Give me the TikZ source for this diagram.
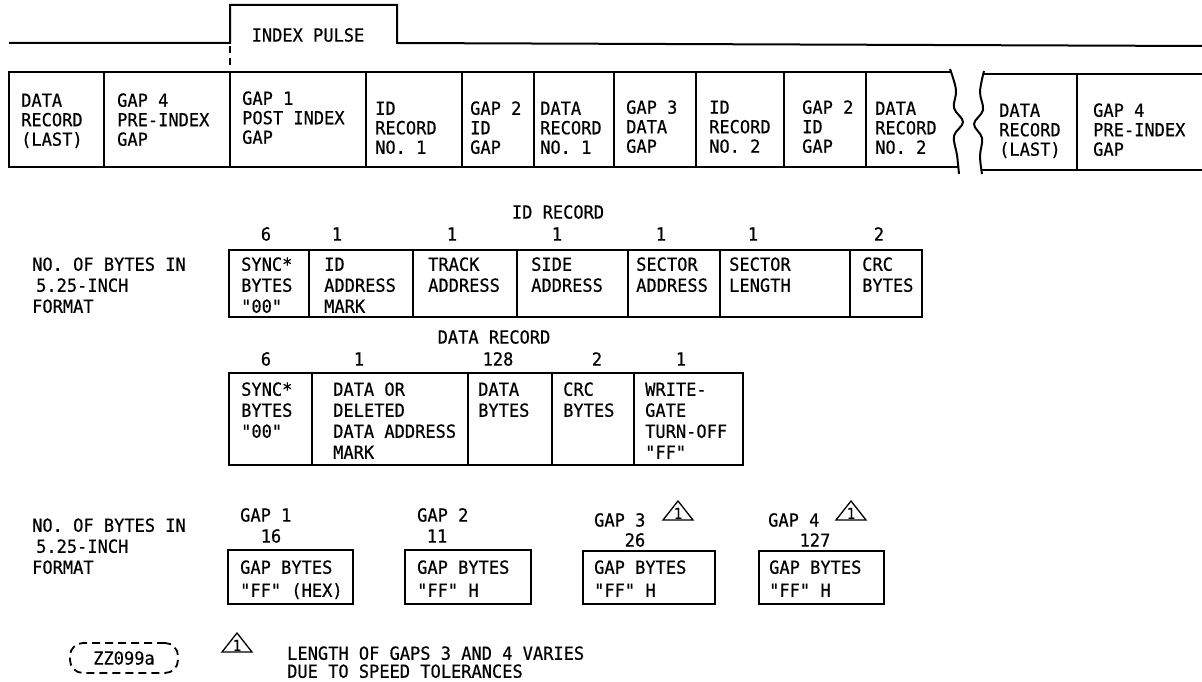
\documentclass[tikz,border=0pt]{standalone}
\usepackage{fontspec}
\newfontfamily\dmono{DejaVu Sans Mono}[FakeStretch=0.945, FakeBold=0.5]
\newcommand\st{\rule{0pt}{15pt}}
\begin{document}
\begin{tikzpicture}[x=1pt,y=-1pt,
  box/.style={line width=2pt},
  gbox/.style={line width=2.4pt},
  sig/.style={line width=2pt},
  t/.style={font=\dmono\fontsize{18}{21}\selectfont, inner sep=0pt, anchor=west},
  num/.style={t, anchor=center},
  tb/.style={t, anchor=north west, align=left, yshift=8.45pt},
  tbs/.style={tb, font=\dmono\fontsize{18}{19.5}\selectfont},
  tbg/.style={tb, font=\dmono\fontsize{18}{23}\selectfont},
  tbf/.style={tb, font=\dmono\fontsize{18}{18}\selectfont},
  warn/.pic={\draw[line width=1.3pt, line join=miter] (-15,0) -- (15,0) -- (0,-19) -- cycle;
             \node[t, anchor=south, font=\dmono\fontsize{15}{15}\selectfont] (-one) at (0,-1) {1};}
]
\useasboundingbox (0,0) rectangle (1202,682);

% ---------- index pulse ----------
\draw[sig] (9,43) -- (230,43) -- (230,5) -- (397,5) -- (397,43) -- (1202,46);
\node[num] (ip) at (308,35) {INDEX PULSE};
\draw[line width=2.5pt, dash pattern=on 7pt off 5pt] (230,46) -- (230,70);

% ---------- track strip ----------
\draw[box] (951,72) -- (9,72) -- (9,167) -- (959,167);
\foreach \x in {104,230,366,462,534,614,696,784,866} \draw[box] (\x,72) -- (\x,167);
\draw[box] plot[smooth, tension=0.6] coordinates {(950,69) (956,90) (954,108) (963,122) (954,136) (957,155) (959,174)};
\draw[box] plot[smooth, tension=0.6] coordinates {(984,71) (980,92) (983,110) (974,124) (982,138) (980,156) (982,174)};
\draw[box] (983,74) -- (1202,74);
\draw[box] (981,170) -- (1202,170);
\draw[box] (1077,74) -- (1077,170);

\node[tbs] (s1) at (21,100) {\st DATA\\RECORD\\(LAST)};
\node[tbs] (s2) at (117,100) {\st GAP 4\\PRE-INDEX\\GAP};
\node[tbs] (s3) at (242,98) {\st GAP 1\\POST INDEX\\GAP};
\node[tbs] (s4) at (375,108) {\st ID\\RECORD\\NO. 1};
\node[tbs] (s5) at (470,108) {\st GAP 2\\ID\\GAP};
\node[tbs] (s6) at (540,108) {\st DATA\\RECORD\\NO. 1};
\node[tbs] (s7) at (626,107) {\st GAP 3\\DATA\\GAP};
\node[tbs] (s8) at (709,107) {\st ID\\RECORD\\NO. 2};
\node[tbs] (s9) at (802,107) {\st GAP 2\\ID\\GAP};
\node[tbs] (s10) at (875,108) {\st DATA\\RECORD\\NO. 2};
\node[tbs] (s11) at (999,110) {\st DATA\\RECORD\\(LAST)};
\node[tbs] (s12) at (1093,110) {\st GAP 4\\PRE-INDEX\\GAP};

% ---------- ID record ----------
\node[num] (idr) at (558,212) {ID RECORD};
\node[num] (in1) at (266,234) {6};
\node[num] (in2) at (337,234) {1};
\node[num] (in3) at (452,234) {1};
\node[num] (in4) at (557,234) {1};
\node[num] (in5) at (661,234) {1};
\node[num] (in6) at (753,234) {1};
\node[num] (in7) at (879,234) {2};
\draw[box] (229,250) rectangle (922,317);
\foreach \x in {309,413,517,628,720,850} \draw[box] (\x,250) -- (\x,317);
\node[tb] (nob1) at (32,264) {\st NO. OF BYTES IN\\\hspace*{4pt}5.25-INCH\\FORMAT};
\node[tb] (i1) at (241,264) {\st SYNC*\\BYTES\\"00"};
\node[tb] (i2) at (324,264) {\st ID\\ADDRESS\\MARK};
\node[tb] (i3) at (428,264) {\st TRACK\\ADDRESS};
\node[tb] (i4) at (531,264) {\st SIDE\\ADDRESS};
\node[tb] (i5) at (636,264) {\st SECTOR\\ADDRESS};
\node[tb] (i6) at (729,264) {\st SECTOR\\LENGTH};
\node[tb] (i7) at (862,264) {\st CRC\\BYTES};

% ---------- data record ----------
\node[num] (drl) at (494,337) {DATA RECORD};
\node[num] (dn1) at (266,359) {6};
\node[num] (dn2) at (359,359) {1};
\node[num] (dn3) at (498,359) {128};
\node[num] (dn4) at (597,359) {2};
\node[num] (dn5) at (681,359) {1};
\draw[box] (229,373) rectangle (743,465);
\foreach \x in {312,468,552,634} \draw[box] (\x,373) -- (\x,465);
\node[tb] (d1) at (241,389) {\st SYNC*\\BYTES\\"00"};
\node[tb] (d2) at (333,389) {\st DATA OR\\DELETED\\DATA ADDRESS\\MARK};
\node[tb] (d3) at (478,389) {\st DATA\\BYTES};
\node[tb] (d4) at (563,389) {\st CRC\\BYTES};
\node[tb] (d5) at (645,389) {\st WRITE-\\GATE\\TURN-OFF\\"FF"};

% ---------- gaps ----------
\node[tb] (nob2) at (32,525) {\st NO. OF BYTES IN\\\hspace*{4pt}5.25-INCH\\FORMAT};
\node[t] (g1l) at (240,515) {GAP 1};
\node[num] (g1n) at (271,536) {16};
\node[t] (g2l) at (417,515) {GAP 2};
\node[num] (g2n) at (437,536) {11};
\node[t] (g3l) at (594,520) {GAP 3};
\pic (w3) at (678,520) {warn};
\node[num] (g3n) at (635,540) {26};
\node[t] (g4l) at (768,520) {GAP 4};
\pic (w4) at (851,520) {warn};
\node[num] (g4n) at (815,540) {127};

\draw[gbox] (228,550) rectangle (353,604);
\draw[gbox] (405,550) rectangle (531,604);
\draw[gbox] (583,551) rectangle (715,604);
\draw[gbox] (759,551) rectangle (884,604);
\node[tbg] (g1t) at (240,567) {\st GAP BYTES\\"FF" (HEX)};
\node[tbg] (g2t) at (417,567) {\st GAP BYTES\\"FF" H};
\node[tbg] (g3t) at (594,567) {\st GAP BYTES\\"FF" H};
\node[tbg] (g4t) at (769,567) {\st GAP BYTES\\"FF" H};

% ---------- footnote ----------
\node[num, draw, line width=1.8pt, dash pattern=on 8pt off 5pt, rounded corners=13pt,
      minimum width=108pt, minimum height=30pt] (zz) at (124,658) {ZZ099a};
\pic (wf) at (237,652) {warn};
\node[tbf] (fn) at (287,653) {\st LENGTH OF GAPS 3 AND 4 VARIES\\DUE TO SPEED TOLERANCES};
\end{tikzpicture}
\end{document}
